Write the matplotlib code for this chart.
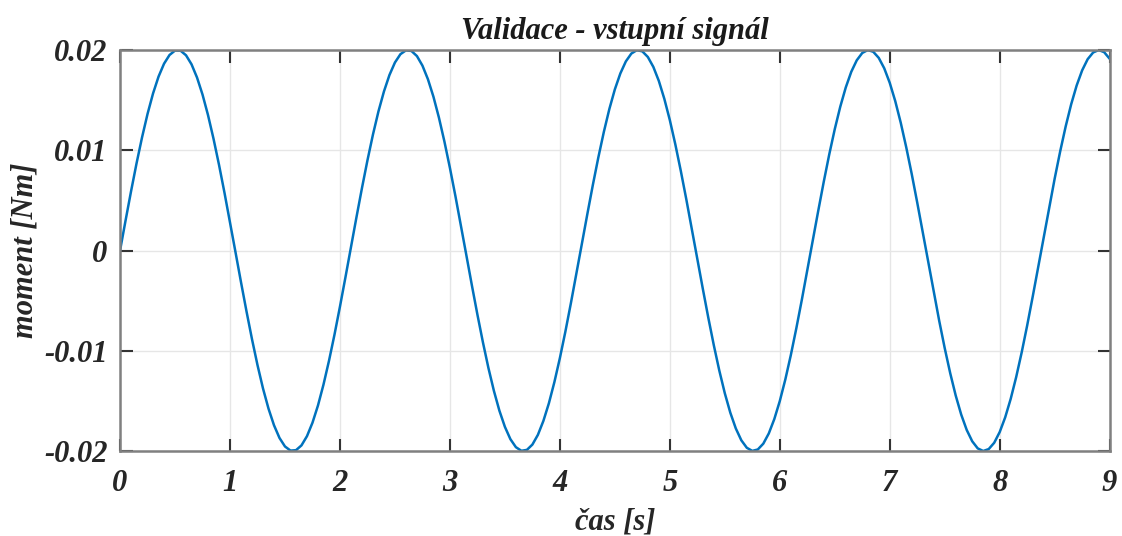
import matplotlib
matplotlib.use("Agg")
import matplotlib.pyplot as plt

time_s = [0.00, 0.05, 0.10, 0.15, 0.20, 0.25, 0.30, 0.35, 0.40, 0.45,
          0.50, 0.55, 0.60, 0.65, 0.70, 0.75, 0.80, 0.85, 0.90, 0.95,
          1.00, 1.05, 1.10, 1.15, 1.20, 1.25, 1.30, 1.35, 1.40, 1.45,
          1.50, 1.55, 1.60, 1.65, 1.70, 1.75, 1.80, 1.85, 1.90, 1.95,
          2.00, 2.05, 2.10, 2.15, 2.20, 2.25, 2.30, 2.35, 2.40, 2.45,
          2.50, 2.55, 2.60, 2.65, 2.70, 2.75, 2.80, 2.85, 2.90, 2.95,
          3.00, 3.05, 3.10, 3.15, 3.20, 3.25, 3.30, 3.35, 3.40, 3.45,
          3.50, 3.55, 3.60, 3.65, 3.70, 3.75, 3.80, 3.85, 3.90, 3.95,
          4.00, 4.05, 4.10, 4.15, 4.20, 4.25, 4.30, 4.35, 4.40, 4.45,
          4.50, 4.55, 4.60, 4.65, 4.70, 4.75, 4.80, 4.85, 4.90, 4.95,
          5.00, 5.05, 5.10, 5.15, 5.20, 5.25, 5.30, 5.35, 5.40, 5.45,
          5.50, 5.55, 5.60, 5.65, 5.70, 5.75, 5.80, 5.85, 5.90, 5.95,
          6.00, 6.05, 6.10, 6.15, 6.20, 6.25, 6.30, 6.35, 6.40, 6.45,
          6.50, 6.55, 6.60, 6.65, 6.70, 6.75, 6.80, 6.85, 6.90, 6.95,
          7.00, 7.05, 7.10, 7.15, 7.20, 7.25, 7.30, 7.35, 7.40, 7.45,
          7.50, 7.55, 7.60, 7.65, 7.70, 7.75, 7.80, 7.85, 7.90, 7.95,
          8.00, 8.05, 8.10, 8.15, 8.20, 8.25, 8.30, 8.35, 8.40, 8.45,
          8.50, 8.55, 8.60, 8.65, 8.70, 8.75, 8.80, 8.85, 8.90, 8.95,
          9.00]
moment_Nm = [0.00000, 0.00299, 0.00591, 0.00870, 0.01129, 0.01363, 0.01567, 0.01735, 0.01864, 0.01951,
             0.01995, 0.01994, 0.01948, 0.01858, 0.01726, 0.01556, 0.01351, 0.01115, 0.00855, 0.00575,
             0.00282, -0.00017, -0.00316, -0.00607, -0.00885, -0.01143, -0.01376, -0.01577, -0.01743, -0.01870,
             -0.01955, -0.01996, -0.01992, -0.01944, -0.01852, -0.01718, -0.01546, -0.01338, -0.01101, -0.00840,
             -0.00559, -0.00266, 0.00034, 0.00332, 0.00623, 0.00900, 0.01157, 0.01388, 0.01587, 0.01751,
             0.01876, 0.01959, 0.01997, 0.01991, 0.01940, 0.01845, 0.01709, 0.01535, 0.01326, 0.01087,
             0.00824, 0.00543, 0.00249, -0.00050, -0.00349, -0.00639, -0.00915, -0.01171, -0.01400, -0.01598,
             -0.01759, -0.01882, -0.01962, -0.01998, -0.01989, -0.01936, -0.01839, -0.01700, -0.01524, -0.01313,
             -0.01073, -0.00809, -0.00526, -0.00232, 0.00067, 0.00365, 0.00655, 0.00930, 0.01184, 0.01412,
             0.01608, 0.01767, 0.01887, 0.01965, 0.01999, 0.01987, 0.01931, 0.01832, 0.01692, 0.01513,
             0.01301, 0.01059, 0.00793, 0.00510, 0.00216, -0.00084, -0.00382, -0.00671, -0.00945, -0.01198,
             -0.01424, -0.01618, -0.01775, -0.01893, -0.01968, -0.01999, -0.01985, -0.01927, -0.01825, -0.01682,
             -0.01502, -0.01288, -0.01045, -0.00778, -0.00494, -0.00199, 0.00101, 0.00398, 0.00687, 0.00960,
             0.01211, 0.01435, 0.01627, 0.01783, 0.01898, 0.01971, 0.02000, 0.01983, 0.01922, 0.01818,
             0.01673, 0.01491, 0.01275, 0.01030, 0.00763, 0.00478, 0.00182, -0.00118, -0.00415, -0.00702,
             -0.00974, -0.01224, -0.01447, -0.01637, -0.01790, -0.01903, -0.01974, -0.02000, -0.01981, -0.01918,
             -0.01811, -0.01664, -0.01480, -0.01262, -0.01016, -0.00747, -0.00461, -0.00165, 0.00134, 0.00431,
             0.00718, 0.00989, 0.01238, 0.01459, 0.01647, 0.01798, 0.01909, 0.01976, 0.02000, 0.01979,
             0.01913]

xticks = [0, 1, 2, 3, 4, 5, 6, 7, 8, 9]
yticks = [-0.02, -0.01, 0, 0.01, 0.02]
ytick_labels = ["-0.02", "-0.01", "0", "0.01", "0.02"]

plt.rcParams['font.family'] = ['Liberation Serif', 'DejaVu Serif']
plt.rcParams['font.weight'] = 'bold'
plt.rcParams['font.style'] = 'italic'

fig = plt.figure(figsize=(11.22, 5.36), dpi=100)
ax = fig.add_axes([0.107, 0.1586, 0.882, 0.748])

ax.plot(time_s, moment_Nm, color="#0072BD", lw=1.8,
        solid_joinstyle='round', solid_capstyle='round')

ax.set_xlim(0, 9)
ax.set_ylim(-0.02, 0.02)
ax.set_xticks(xticks)
ax.set_xticklabels([str(t) for t in xticks])
ax.set_yticks(yticks)
ax.set_yticklabels(ytick_labels)
ax.grid(True, color="#e6e6e6", lw=1.0)
ax.set_axisbelow(True)

for s in ax.spines.values():
    s.set_color("#808080")
    s.set_linewidth(1.8)
ax.tick_params(direction='in', length=9, width=1.5, color="#333333",
               labelsize=22, labelcolor="#262626", top=True, right=True,
               labeltop=False, labelright=False)
ax.tick_params(axis='x', pad=13)
ax.tick_params(axis='y', pad=9)

ax.set_title("Validace - vstupní signál", fontsize=22, fontweight='bold',
             fontstyle='italic', color="#1a1a1a", pad=8)
ax.set_xlabel("čas [s]", fontsize=22, fontweight='bold', fontstyle='italic',
              color="#262626", labelpad=7)
ax.set_ylabel("moment [Nm]", fontsize=22, fontweight='bold', fontstyle='italic',
              color="#262626", labelpad=3)

fig.savefig("out.png", dpi=100)
